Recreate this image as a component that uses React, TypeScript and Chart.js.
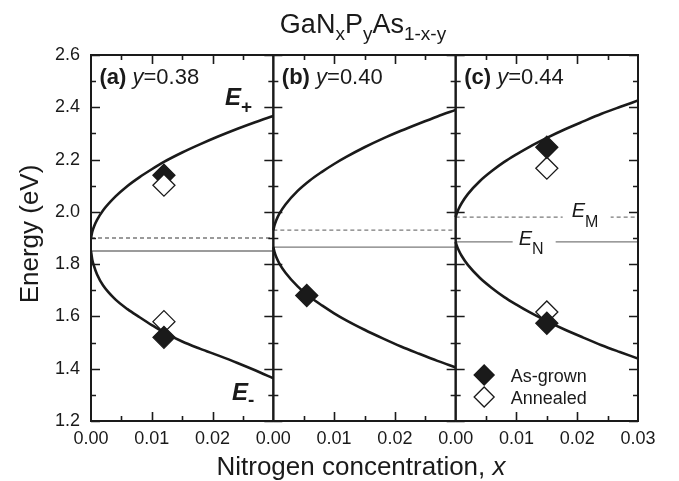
import { useEffect, useRef } from "react";
import { Chart, registerables } from "chart.js";

Chart.register(...registerables);

// ---------- data ----------
const nitrogenX = [0, 0.0002, 0.0005, 0.001, 0.002, 0.004, 0.006, 0.008, 0.01, 0.012, 0.015, 0.018, 0.021, 0.024, 0.027, 0.03];

const ePlusA = [1.9, 1.923, 1.944, 1.969, 2.006, 2.058, 2.099, 2.133, 2.163, 2.191, 2.227, 2.259, 2.289, 2.317, 2.343, 2.367];
const eMinusA = [1.85, 1.818, 1.792, 1.76, 1.718, 1.665, 1.628, 1.597, 1.567, 1.539, 1.504, 1.476, 1.45, 1.423, 1.394, 1.363];

const ePlusB = [1.93, 1.949, 1.969, 1.993, 2.028, 2.08, 2.12, 2.153, 2.183, 2.21, 2.247, 2.28, 2.31, 2.338, 2.365, 2.39];
const eMinusB = [1.865, 1.846, 1.826, 1.802, 1.767, 1.715, 1.675, 1.642, 1.612, 1.585, 1.549, 1.516, 1.485, 1.457, 1.43, 1.405];

const ePlusC = [1.98, 1.995, 2.012, 2.034, 2.068, 2.118, 2.157, 2.191, 2.22, 2.247, 2.283, 2.316, 2.346, 2.375, 2.401, 2.426];
const eMinusC = [1.885, 1.87, 1.853, 1.831, 1.797, 1.747, 1.708, 1.674, 1.645, 1.618, 1.582, 1.549, 1.519, 1.49, 1.464, 1.439];

const levelEM = [1.9, 1.93, 1.98];
const levelEN = [1.85, 1.865, 1.885];

const panelTags = ["(a)", "(b)", "(c)"];
const phosphorusY = ["0.38", "0.40", "0.44"];

const asGrownPanel = [0, 0, 1, 2, 2];
const asGrownX = [0.012, 0.012, 0.0055, 0.015, 0.015];
const asGrownE = [2.14, 1.52, 1.68, 2.247, 1.574];

const annealedPanel = [0, 0, 2, 2];
const annealedX = [0.012, 0.012, 0.015, 0.015];
const annealedE = [2.102, 1.58, 2.167, 1.617];
const annealedDrawnOnTop = [true, false, false, false];

const xTickValues = [0, 0.01, 0.02, 0.03, 0.04, 0.05, 0.06, 0.07, 0.08, 0.09];
const yTickValues = [1.2, 1.4, 1.6, 1.8, 2.0, 2.2, 2.4, 2.6];

// ---------- layout / style ----------
const PANEL_SPAN = 0.03;
const FONT = '"Liberation Sans", Arial, Helvetica, sans-serif';
const INK = "#1a1a1a";
const LEVEL = "#7a7a7a";

type Run = { t: string; f: string; dy?: number };

function drawRuns(ctx: CanvasRenderingContext2D, runs: Run[], x: number, y: number, align: "left" | "center") {
  let total = 0;
  const widths = runs.map((r) => {
    ctx.font = r.f;
    const w = ctx.measureText(r.t).width;
    total += w;
    return w;
  });
  let cx = align === "center" ? x - total / 2 : x;
  ctx.textAlign = "left";
  ctx.textBaseline = "alphabetic";
  runs.forEach((r, i) => {
    ctx.font = r.f;
    ctx.fillText(r.t, cx, y + (r.dy || 0));
    cx += widths[i];
  });
  return total;
}

function diamond(ctx: CanvasRenderingContext2D, x: number, y: number, r: number, filled: boolean) {
  ctx.beginPath();
  ctx.moveTo(x - r, y);
  ctx.lineTo(x, y - r);
  ctx.lineTo(x + r, y);
  ctx.lineTo(x, y + r);
  ctx.closePath();
  ctx.fillStyle = filled ? INK : "#fff";
  ctx.fill();
  ctx.lineWidth = 1.3;
  ctx.strokeStyle = INK;
  ctx.stroke();
}

const decorPlugin = {
  id: "decor",
  afterDatasetsDraw(chart: any) {
    const ctx: CanvasRenderingContext2D = chart.ctx;
    const xs = chart.scales.x;
    const ys = chart.scales.y;
    ctx.save();
    const c0 = xs.getPixelForValue(2 * PANEL_SPAN);
    const emY = ys.getPixelForValue(levelEM[2]);
    const enY = ys.getPixelForValue(levelEN[2]);
    ctx.fillStyle = "#fff";
    ctx.fillRect(c0 + 107, emY - 4, 48, 8);
    ctx.fillRect(c0 + 57, enY - 4, 43, 8);
    ctx.fillStyle = INK;
    drawRuns(ctx, [
      { t: "E", f: `italic 20px ${FONT}` },
      { t: "M", f: `16px ${FONT}`, dy: 10 },
    ], c0 + 116, emY + 0, "left");
    drawRuns(ctx, [
      { t: "E", f: `italic 20px ${FONT}` },
      { t: "N", f: `16px ${FONT}`, dy: 9.5 },
    ], c0 + 63, enY + 3, "left");
    ctx.restore();
  },
  afterDraw(chart: any) {
    const ctx: CanvasRenderingContext2D = chart.ctx;
    const xs = chart.scales.x;
    const ys = chart.scales.y;
    const top = chart.chartArea.top;
    const bottom = chart.chartArea.bottom;
    ctx.save();
    ctx.strokeStyle = INK;
    ctx.fillStyle = INK;

    for (let p = 0; p < 3; p++) {
      const l = xs.getPixelForValue(p * PANEL_SPAN);
      const r = xs.getPixelForValue((p + 1) * PANEL_SPAN);
      ctx.lineWidth = 1.6;
      ctx.beginPath();
      for (let k = 0; k <= 14; k++) {
        const v = 1.2 + k * 0.1;
        const py = Math.round(ys.getPixelForValue(v)) + 0.5;
        const len = k % 2 === 0 ? 9 : 5;
        ctx.moveTo(l, py);
        ctx.lineTo(l + len, py);
        ctx.moveTo(r, py);
        ctx.lineTo(r - len, py);
      }
      for (let k = 1; k < 6; k++) {
        const v = p * PANEL_SPAN + k * 0.005;
        const px = Math.round(xs.getPixelForValue(v)) + 0.5;
        const len = k % 2 === 0 ? 9 : 5;
        ctx.moveTo(px, bottom);
        ctx.lineTo(px, bottom - len);
        ctx.moveTo(px, top);
        ctx.lineTo(px, top + len);
      }
      ctx.stroke();
      ctx.lineWidth = 2;
      ctx.strokeRect(l, top, r - l, bottom - top);
    }

    for (let p = 0; p < 3; p++) {
      const l = xs.getPixelForValue(p * PANEL_SPAN);
      drawRuns(ctx, [
        { t: panelTags[p], f: `bold 22px ${FONT}` },
        { t: " ", f: `22px ${FONT}` },
        { t: "y", f: `italic 22px ${FONT}` },
        { t: "=" + phosphorusY[p], f: `22px ${FONT}` },
      ], l + 8.5, 83.5, "left");
    }

    const a0 = xs.getPixelForValue(0);
    drawRuns(ctx, [
      { t: "E", f: `bold italic 24px ${FONT}` },
      { t: "+", f: `bold 19px ${FONT}`, dy: 8 },
    ], a0 + 134, 104.5, "left");
    drawRuns(ctx, [
      { t: "E", f: `bold italic 24px ${FONT}` },
      { t: "-", f: `bold 19px ${FONT}`, dy: 6 },
    ], a0 + 141, 399.5, "left");

    const c0 = xs.getPixelForValue(2 * PANEL_SPAN);
    diamond(ctx, c0 + 28.5, 375, 10, true);
    diamond(ctx, c0 + 28.5, 397, 10, false);
    ctx.fillStyle = INK;
    ctx.font = `18px ${FONT}`;
    ctx.textAlign = "left";
    ctx.textBaseline = "alphabetic";
    ctx.fillText("As-grown", c0 + 55, 381.5);
    ctx.fillText("Annealed", c0 + 55, 403.5);

    drawRuns(ctx, [
      { t: "GaN", f: `27px ${FONT}` },
      { t: "x", f: `19px ${FONT}`, dy: 7 },
      { t: "P", f: `27px ${FONT}` },
      { t: "y", f: `19px ${FONT}`, dy: 7 },
      { t: "As", f: `27px ${FONT}` },
      { t: "1-x-y", f: `19px ${FONT}`, dy: 7 },
    ], 363, 33, "center");

    drawRuns(ctx, [
      { t: "Nitrogen concentration, ", f: `26px ${FONT}` },
      { t: "x", f: `italic 26px ${FONT}` },
    ], 361, 475, "center");

    ctx.save();
    ctx.translate(38, 234);
    ctx.rotate(-Math.PI / 2);
    ctx.font = `26px ${FONT}`;
    ctx.textAlign = "center";
    ctx.textBaseline = "alphabetic";
    ctx.fillText("Energy (eV)", 0, 0);
    ctx.restore();

    ctx.restore();
  },
};

export default function App() {
  const canvasRef = useRef<HTMLCanvasElement | null>(null);

  useEffect(() => {
    const canvas = canvasRef.current;
    if (!canvas) return;

    const curves = [
      [ePlusA, eMinusA],
      [ePlusB, eMinusB],
      [ePlusC, eMinusC],
    ];

    const markerStyle = {
      showLine: false,
      pointStyle: "rectRot",
      pointRadius: 11,
      pointBorderColor: INK,
      pointBorderWidth: 1.3,
    };

    const annealedPoints = annealedX.map((x, i) => ({ x: x + annealedPanel[i] * PANEL_SPAN, y: annealedE[i] }));

    const datasets: any[] = [];

    datasets.push({
      label: "Annealed (front)",
      data: annealedPoints.filter((_, i) => annealedDrawnOnTop[i]),
      ...markerStyle,
      pointBackgroundColor: "#fff",
      order: 0,
    });
    datasets.push({
      label: "As-grown",
      data: asGrownX.map((x, i) => ({ x: x + asGrownPanel[i] * PANEL_SPAN, y: asGrownE[i] })),
      ...markerStyle,
      pointBackgroundColor: INK,
      order: 1,
    });
    datasets.push({
      label: "Annealed",
      data: annealedPoints.filter((_, i) => !annealedDrawnOnTop[i]),
      ...markerStyle,
      pointBackgroundColor: "#fff",
      order: 2,
    });

    curves.forEach((pair, p) => {
      pair.forEach((vals, b) => {
        datasets.push({
          label: `${b === 0 ? "E+" : "E-"} ${panelTags[p]}`,
          data: nitrogenX.map((x, i) => ({ x: x + p * PANEL_SPAN, y: vals[i] })),
          borderColor: INK,
          borderWidth: 2.6,
          pointRadius: 0,
          cubicInterpolationMode: "monotone",
          fill: false,
          order: 3,
        });
      });
      datasets.push({
        label: `EM ${panelTags[p]}`,
        data: [
          { x: p * PANEL_SPAN, y: levelEM[p] },
          { x: (p + 1) * PANEL_SPAN, y: levelEM[p] },
        ],
        borderColor: LEVEL,
        borderWidth: 1.3,
        borderDash: [4, 3],
        pointRadius: 0,
        order: 4,
      });
      datasets.push({
        label: `EN ${panelTags[p]}`,
        data: [
          { x: p * PANEL_SPAN, y: levelEN[p] },
          { x: (p + 1) * PANEL_SPAN, y: levelEN[p] },
        ],
        borderColor: LEVEL,
        borderWidth: 1.4,
        pointRadius: 0,
        order: 4,
      });
    });

    const chart = new Chart(canvas, {
      type: "line",
      data: { datasets },
      plugins: [decorPlugin],
      options: {
        animation: false,
        responsive: false,
        devicePixelRatio: 1,
        layout: { padding: { left: 0, right: 41, top: 55, bottom: 0 } },
        plugins: {
          legend: { display: false },
          tooltip: { enabled: false },
          title: { display: false },
        },
        scales: {
          x: {
            type: "linear",
            min: 0,
            max: 0.09,
            grid: { display: false, drawTicks: false, tickLength: 0 },
            border: { display: false },
            afterBuildTicks: (s: any) => {
              s.ticks = xTickValues.map((v) => ({ value: v }));
            },
            afterFit: (s: any) => {
              s.height = 60;
            },
            ticks: {
              autoSkip: false,
              maxRotation: 0,
              padding: 7,
              color: INK,
              font: { family: FONT, size: 18 },
              callback: (v: any) => {
                const n = Math.round(Number(v) * 100);
                return n === 9 ? "0.03" : ((n % 3) / 100).toFixed(2);
              },
            },
          },
          y: {
            type: "linear",
            min: 1.2,
            max: 2.6,
            grid: { display: false, drawTicks: false, tickLength: 0 },
            border: { display: false },
            afterBuildTicks: (s: any) => {
              s.ticks = yTickValues.map((v) => ({ value: v }));
            },
            afterFit: (s: any) => {
              s.width = 91;
            },
            ticks: {
              padding: 11,
              color: INK,
              font: { family: FONT, size: 18 },
              callback: (v: any) => Number(v).toFixed(1),
            },
          },
        },
      } as any,
    });

    return () => chart.destroy();
  }, []);

  return (
    <div style={{ position: "absolute", left: 0, top: 0, width: 679, height: 481, background: "#fff" }}>
      <canvas ref={canvasRef} width={679} height={481} />
    </div>
  );
}
